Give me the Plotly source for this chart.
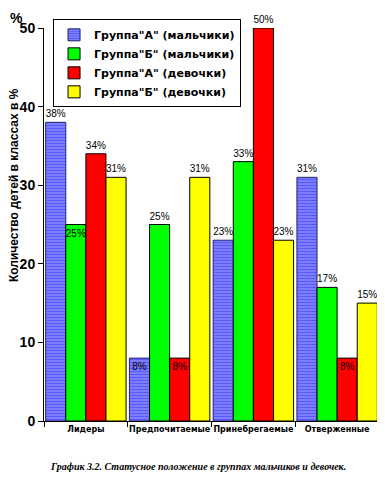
import plotly.graph_objects as go

categories = ["Лидеры", "Предпочитаемые", "Принебрегаемые", "Отверженные"]
series_names = ['Группа"А" (мальчики)', 'Группа"Б" (мальчики)', 'Группа"А" (девочки)', 'Группа"Б" (девочки)']
boys_a = [38, 8, 23, 31]
boys_b = [25, 25, 33, 17]
girls_a = [34, 8, 50, 8]
girls_b = [31, 31, 23, 15]
y_ticks = [0, 10, 20, 30, 40, 50]

values = [boys_a, boys_b, girls_a, girls_b]
colors = ["#6a6aff", "#00ff00", "#ff0000", "#ffff00"]
positions = [
    ["outside", "inside", "outside", "outside"],
    ["inside", "outside", "outside", "outside"],
    ["outside", "inside", "outside", "inside"],
    ["outside", "outside", "outside", "outside"],
]

fig = go.Figure()
for i, (name, vals) in enumerate(zip(series_names, values)):
    marker = dict(color=colors[i], line=dict(color="black", width=1))
    if i == 0:
        marker = dict(color="#6a6aff", line=dict(color="#222266", width=1),
                      pattern=dict(shape="-", fgcolor="#2a2aff", bgcolor="#8888ff", size=3, solidity=0.5))
    fig.add_trace(go.Bar(
        x=categories, y=vals, name=name, marker=marker,
        text=[f"{v}%" for v in vals], textposition=positions[i],
        insidetextanchor="end", constraintext="none", textangle=0,
        textfont=dict(family="Arial, Liberation Sans", size=10, color="black"),
        outsidetextfont=dict(family="Arial, Liberation Sans", size=10, color="black"),
        insidetextfont=dict(family="Arial, Liberation Sans", size=10, color="black"),
        cliponaxis=False,
    ))

# page body has an 8px default margin, so the figure is sized/offset to compensate
fig.update_layout(
    width=377, height=477,
    margin=dict(l=36, r=6, t=20, b=64),
    paper_bgcolor="white", plot_bgcolor="white",
    barmode="group", bargap=0.04, bargroupgap=0,
    font=dict(family="Arial, Liberation Sans", color="black"),
    showlegend=True,
    legend=dict(x=0.027, y=1.022, xanchor="left", yanchor="top",
                bordercolor="black", borderwidth=1, bgcolor="white",
                font=dict(size=11, family="DejaVu Sans", weight="bold"),
                itemwidth=30, tracegroupgap=0),
    xaxis=dict(showline=True, linecolor="black", linewidth=1, ticks="outside",
               tickson="boundaries", ticklen=5, tickcolor="black", tickangle=0,
               automargin=False,
               tickfont=dict(size=8, family="DejaVu Sans", weight="bold")),
    yaxis=dict(range=[0, 50], tickvals=y_ticks, showline=True, linecolor="black",
               linewidth=1, ticks="outside", ticklen=5, tickcolor="black",
               showgrid=False, zeroline=False, automargin=False,
               tickfont=dict(size=14, family="Arial, Liberation Sans", weight="bold")),
    annotations=[
        dict(text="Количество детей в классах в %", textangle=-90, xref="paper", yref="paper",
             x=-0.09, y=0.6, xanchor="center", yanchor="middle", showarrow=False,
             font=dict(size=12, weight="bold", family="Arial, Liberation Sans")),
        dict(text="%", xref="paper", yref="paper", x=-0.107, y=1.05, xanchor="left", yanchor="top",
             showarrow=False, font=dict(size=14, weight="bold", family="Arial, Liberation Sans")),
        dict(text="График 3.2. Статусное положение в группах мальчиков и девочек.",
             xref="paper", yref="paper", x=0.46, y=-0.115, xanchor="center", yanchor="middle",
             showarrow=False,
             font=dict(size=10, family="Liberation Serif, Times New Roman", style="italic", weight="bold")),
    ],
)

fig.write_html("out.html")
